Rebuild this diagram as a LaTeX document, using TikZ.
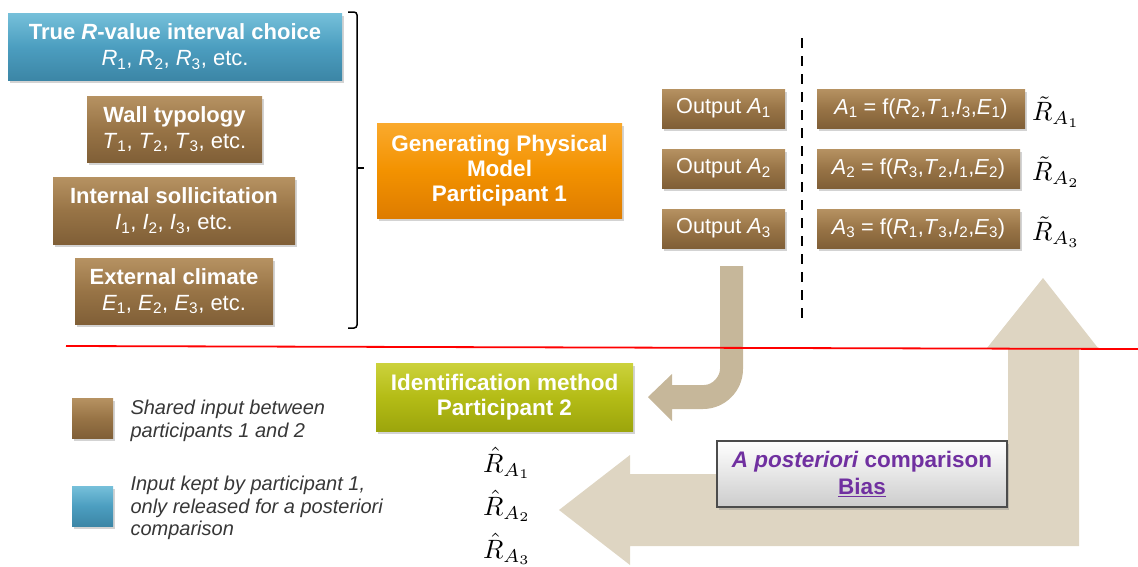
\documentclass[tikz,border=0pt]{standalone}
\usepackage{fontspec}
\setmainfont{Liberation Sans}
\usetikzlibrary{shadows}
\definecolor{brownM}{RGB}{152,116,70}
\definecolor{brownT}{RGB}{182,146,98}
\definecolor{brownB}{RGB}{128,95,55}
\definecolor{blueM}{RGB}{76,158,192}
\definecolor{blueT}{RGB}{118,192,218}
\definecolor{blueB}{RGB}{60,134,166}
\definecolor{orangeM}{RGB}{243,146,0}
\definecolor{orangeT}{RGB}{250,170,45}
\definecolor{orangeB}{RGB}{222,124,0}
\definecolor{limeM}{RGB}{180,188,22}
\definecolor{limeT}{RGB}{204,210,60}
\definecolor{limeB}{RGB}{156,165,12}
\definecolor{tanD}{RGB}{198,183,154}
\definecolor{tanL}{RGB}{222,213,194}
\definecolor{purp}{RGB}{112,48,160}
\definecolor{legtext}{RGB}{55,55,55}
\newcommand{\estlabel}[1]{\scalebox{2.65}{$#1$}}
\begin{document}
\begin{tikzpicture}[x=1pt,y=-1pt,
  box/.style={rectangle, inner sep=2pt, align=center, text=white,
    drop shadow={shadow xshift=2pt,shadow yshift=-2.5pt,opacity=0.35}},
  brownbox/.style={box, top color=brownT, bottom color=brownB, middle color=brownM},
  bluebox/.style={box, top color=blueT, bottom color=blueB, middle color=blueM},
  orangebox/.style={box, top color=orangeT, bottom color=orangeB, middle color=orangeM},
  limebox/.style={box, top color=limeT, bottom color=limeB, middle color=limeM},
  bigtxt/.style={font=\fontsize{22}{26}\selectfont},
  boldtxt/.style={font=\fontsize{22.5}{25}\selectfont\bfseries},
  midtxt/.style={font=\fontsize{21.7}{24}\selectfont},
  leg/.style={anchor=west, align=left, text=legtext, font=\fontsize{20}{22.5}\selectfont\itshape},
  estim/.style={anchor=west, inner sep=0pt, font=\fontsize{10}{12}\selectfont}]
\useasboundingbox (0,0) rectangle (1138,566);

% input boxes
\node[bluebox, bigtxt, minimum width=334pt, minimum height=67pt] (rv) at (175,46.5)
  {\textbf{True \textit{R}-value interval choice}\\\textit{R}\textsubscript{1}, \textit{R}\textsubscript{2}, \textit{R}\textsubscript{3}, etc.};
\node[brownbox, bigtxt, minimum width=175pt, minimum height=66pt] (wall) at (174.5,129)
  {\textbf{Wall typology}\\\textit{T}\textsubscript{1}, \textit{T}\textsubscript{2}, \textit{T}\textsubscript{3}, etc.};
\node[brownbox, bigtxt, minimum width=242pt, minimum height=67pt] (isol) at (174,210.5)
  {\textbf{Internal sollicitation}\\\textit{I}\textsubscript{1}, \textit{I}\textsubscript{2}, \textit{I}\textsubscript{3}, etc.};
\node[brownbox, bigtxt, minimum width=198pt, minimum height=66pt] (ext) at (174,291)
  {\textbf{External climate}\\\textit{E}\textsubscript{1}, \textit{E}\textsubscript{2}, \textit{E}\textsubscript{3}, etc.};

% bracket
\draw[line width=1.5pt, rounded corners=3pt] (348,12) -- (357,12) -- (357,328) -- (348,328);
\draw[line width=1.5pt] (357,168) -- (364,168);

% generating model
\node[orangebox, boldtxt, minimum width=245pt, minimum height=95pt] (gen) at (499.5,170.5)
  {Generating Physical\\Model\\Participant 1};

% outputs
\foreach \i/\y in {1/108.5,2/168.5,3/228.5}{
  \node[brownbox, midtxt, minimum width=123pt, minimum height=39pt] (out\i) at (723.5,\y)
    {Output \textit{A}\textsubscript{\i}};
}
\node[brownbox, midtxt, minimum width=208pt, minimum height=39pt] (f1) at (921,108.5)
  {\textit{A}\textsubscript{1} = f(\textit{R}\textsubscript{2},\textit{T}\textsubscript{1},\textit{I}\textsubscript{3},\textit{E}\textsubscript{1})};
\node[brownbox, midtxt, minimum width=203pt, minimum height=39pt] (f2) at (918.5,168.5)
  {\textit{A}\textsubscript{2} = f(\textit{R}\textsubscript{3},\textit{T}\textsubscript{2},\textit{I}\textsubscript{1},\textit{E}\textsubscript{2})};
\node[brownbox, midtxt, minimum width=203pt, minimum height=39pt] (f3) at (918.5,228.5)
  {\textit{A}\textsubscript{3} = f(\textit{R}\textsubscript{1},\textit{T}\textsubscript{3},\textit{I}\textsubscript{2},\textit{E}\textsubscript{3})};
\node[estim] (rt1) at (1032,112) {\estlabel{\tilde{R}_{A_1}}};
\node[estim] (rt2) at (1032,172) {\estlabel{\tilde{R}_{A_2}}};
\node[estim] (rt3) at (1032,232) {\estlabel{\tilde{R}_{A_3}}};

% dashed separator
\coordinate (dtop) at (802,38);
\coordinate (dbot) at (802,321);
\draw[line width=1.8pt, dash pattern=on 10pt off 8pt] (dtop) -- (dbot);

% big return arrow
\fill[tanL] (559,510) -- (630,455) -- (630,474) -- (1008,474) -- (1008,348) -- (987,348)
  -- (1043,278) -- (1098,348) -- (1079,348) -- (1079,546) -- (630,546) -- (630,565) -- cycle;

% curved arrow
\fill[tanD] (720,266) -- (743,266) -- (743,369) .. controls (743,391) and (725,409) .. (703,409)
  -- (672,409) -- (672,421) -- (648,397) -- (672,374) -- (672,385) -- (704,385)
  .. controls (713,385) and (720,376) .. (720,369) -- cycle;

% red line
\coordinate (rl) at (66,346);
\coordinate (rr) at (1138,349);
\draw[red, line width=1.8pt] (rl) -- (rr);

% identification
\node[limebox, boldtxt, minimum width=257pt, minimum height=68pt] (ident) at (504.5,397)
  {Identification method\\Participant 2};
\node[estim] (rh1) at (483,463) {\estlabel{\hat{R}_{A_1}}};
\node[estim] (rh2) at (483,506) {\estlabel{\hat{R}_{A_2}}};
\node[estim] (rh3) at (483,549) {\estlabel{\hat{R}_{A_3}}};

% comparison
\node[rectangle, draw=black!70, line width=1.3pt, top color=white, bottom color=black!20,
  drop shadow={shadow xshift=2pt,shadow yshift=-2.5pt,opacity=0.35},
  minimum width=290pt, minimum height=66pt, align=center, text=purp,
  font=\fontsize{22.5}{27}\selectfont\bfseries] (comp) at (862,474)
  {\textit{A posteriori} comparison\\\underline{Bias}};

% legend
\node[brownbox, minimum width=41pt, minimum height=40pt, inner sep=0pt] (lg1) at (92.5,418) {};
\node[bluebox, minimum width=41pt, minimum height=40pt, inner sep=0pt] (lg2) at (92.5,506) {};
\node[leg] (lt1) at (127,421) {Shared input between\\participants 1 and 2};
\node[leg] (lt2) at (127,508) {Input kept by participant 1,\\only released for a posteriori\\comparison};
\end{tikzpicture}
\end{document}
